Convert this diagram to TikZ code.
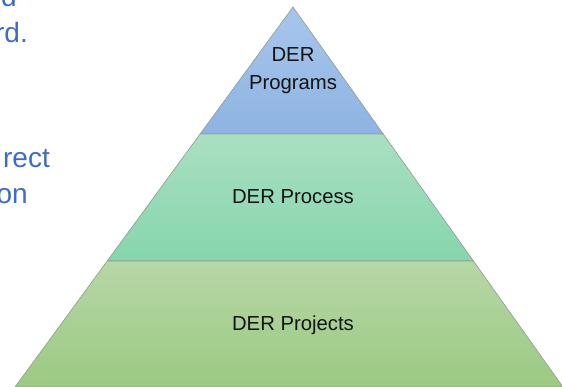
\documentclass[tikz,border=0pt]{standalone}
\usepackage{fontspec}
\setmainfont{Liberation Sans}
\usetikzlibrary{calc}
\definecolor{slideblue}{HTML}{3C6CC4}
\definecolor{edgegray}{HTML}{8E9C90}
\definecolor{progtop}{HTML}{A8C6EC}
\definecolor{progbot}{HTML}{8EB3E2}
\definecolor{proctop}{HTML}{AADFC2}
\definecolor{procbot}{HTML}{86D5AD}
\definecolor{projtop}{HTML}{B7D7A7}
\definecolor{projbot}{HTML}{9BC982}

\begin{document}
\begin{tikzpicture}[x=1pt, y=-1pt,
  tier/.style={draw=edgegray, line width=0.6pt},
  lbl/.style={font=\fontsize{20.3}{28}\selectfont, text=black!92, align=center},
  cut/.style={font=\fontsize{28}{34}\selectfont, text=slideblue, anchor=base east, inner sep=0pt}]

  \useasboundingbox (0,0) rectangle (562,387);
  \clip (0,0) rectangle (562,387);

  \newcommand\Ta{0.3342};
  \newcommand\Tb{0.6684};

  \coordinate (apex) at (293,7);
  \coordinate (bl) at (15,387);
  \coordinate (br) at (563,387);
  \coordinate (l1) at ($(apex)!\Ta!(bl)$);
  \coordinate (r1) at ($(apex)!\Ta!(br)$);
  \coordinate (l2) at ($(apex)!\Tb!(bl)$);
  \coordinate (r2) at ($(apex)!\Tb!(br)$);

  %% pyramid tiers
  \shade[tier, top color=progtop, bottom color=progbot] (apex) -- (r1) -- (l1) -- cycle;
  \shade[tier, top color=proctop, bottom color=procbot] (l1) -- (r1) -- (r2) -- (l2) -- cycle;
  \shade[tier, top color=projtop, bottom color=projbot] (l2) -- (r2) -- (br) -- (bl) -- cycle;

  \node[lbl] (programs) at (293,71) {DER\\Programs};
  \node[lbl] (process) at (293,197) {DER Process};
  \node[lbl] (projects) at (293,325) {DER Projects};

  %% slide text cut off at the left
  \node[cut] (cuta) at (17,7) {d};
  \node[cut] (cutb) at (28,43) {rd.};
  \node[cut] (cutc) at (50,168) {rect};
  \node[cut] (cutd) at (28,204) {on};
\end{tikzpicture}
\end{document}
